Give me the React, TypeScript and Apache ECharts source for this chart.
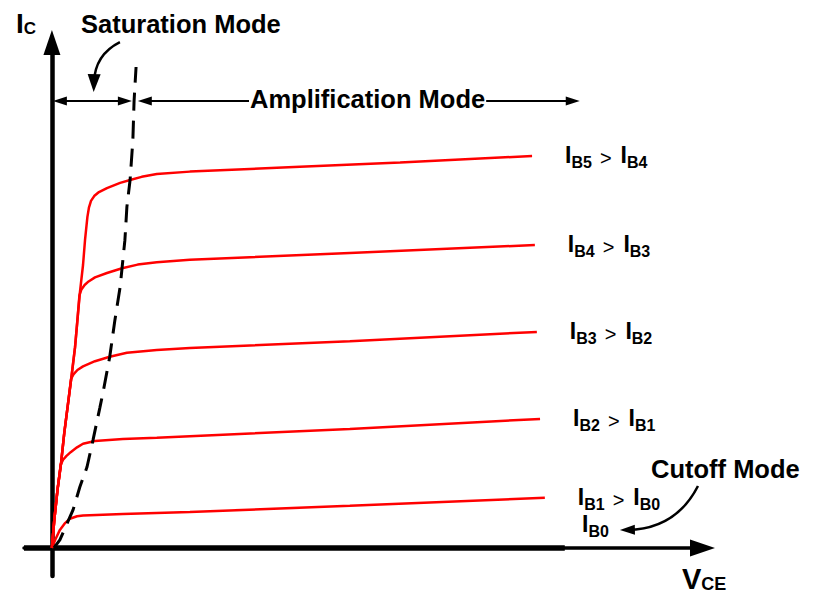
import React, { useEffect, useRef } from "react";
import * as echarts from "echarts";

// Axis ranges (V_CE in V, I_C in mA; arbitrary units)
const xRange = [-0.7, 16];
const yRange = [-0.7, 12.3];

// Output characteristic curves (x = V_CE, y = I_C)
const ib5 = [[0,0],[0.06,0.70],[0.14,1.45],[0.23,2.12],[0.31,2.87],[0.40,3.57],[0.49,4.27],[0.58,5.01],[0.64,5.69],[0.70,6.36],[0.78,7.06],[0.83,7.68],[0.89,8.26],[0.93,8.50],[0.98,8.66],[1.06,8.78],[1.18,8.88],[1.38,8.98],[1.71,9.11],[1.96,9.18],[2.25,9.26],[2.63,9.33],[3.46,9.39],[6.22,9.51],[8.73,9.62],[12.04,9.78]];
const ib4 = [[0,0],[0.06,0.70],[0.14,1.45],[0.23,2.12],[0.31,2.87],[0.40,3.57],[0.49,4.27],[0.58,5.01],[0.64,5.69],[0.69,6.30],[0.74,6.45],[0.82,6.56],[0.92,6.65],[1.08,6.75],[1.38,6.86],[1.76,6.98],[2.15,7.07],[2.63,7.13],[3.46,7.19],[7.47,7.36],[12.11,7.56]];
const ib3 = [[0,0],[0.06,0.70],[0.14,1.45],[0.23,2.12],[0.31,2.87],[0.40,3.57],[0.48,4.22],[0.54,4.33],[0.64,4.44],[0.78,4.53],[1.08,4.66],[1.45,4.77],[1.88,4.87],[2.63,4.94],[3.46,4.99],[7.47,5.16],[12.16,5.39]];
const ib2 = [[0,0],[0.06,0.70],[0.14,1.45],[0.22,2.08],[0.28,2.20],[0.36,2.29],[0.47,2.39],[0.63,2.51],[0.78,2.60],[1.08,2.67],[1.78,2.72],[2.63,2.75],[3.46,2.79],[7.47,2.97],[12.24,3.22]];
const ib1 = [[0,0],[0.08,0.20],[0.20,0.45],[0.33,0.62],[0.45,0.73],[0.63,0.79],[0.78,0.81],[1.78,0.85],[3.46,0.90],[7.47,1.05],[12.36,1.25]];

const curveLabels = [["B5", "B4"], ["B4", "B3"], ["B3", "B2"], ["B2", "B1"], ["B1", "B0"]];

// Saturation boundary (dashed)
const satBoundary = [[0.05,0],[0.20,0.20],[0.53,0.95],[0.70,1.52],[0.88,2.02],[1.03,2.69],[1.20,3.49],[1.28,3.87],[1.45,4.77],[1.58,5.69],[1.71,6.51],[1.83,7.68],[1.88,8.51],[1.96,9.18],[2.03,10.18],[2.06,11.15],[2.11,12.0]];

// Thick part of the V_CE axis
const xAxisThick = [[-0.7, 0], [12.86, 0]];

// Region arrows
const saturationSpan = [[0.2, 11.15], [1.83, 11.15]];
const amplificationSpan = [[2.33, 11.15], [13.06, 11.15]];
const saturationPointer = [[1.705, 12.62], [1.053, 11.6]];
const cutoffPointer = [[16.2, 1.547], [14.43, 0.449]];

const FONT = '"Liberation Sans", Arial, sans-serif';

const labelRich = {
  i: { fontFamily: FONT, fontWeight: "bold", fontSize: 23, lineHeight: 24, verticalAlign: "top", color: "#000" },
  s: { fontFamily: FONT, fontWeight: "bold", fontSize: 16, lineHeight: 16, verticalAlign: "top", padding: [10.5, 0, 0, 0], color: "#000" },
  g: { fontFamily: FONT, fontWeight: "normal", fontSize: 20, lineHeight: 20, verticalAlign: "top", padding: [4, 9, 0, 8], color: "#000" },
};

export default function App() {
  const ref = useRef<HTMLDivElement>(null);
  useEffect(() => {
    const chart = echarts.init(ref.current!, null, { renderer: "svg" });
    const curves = [ib5, ib4, ib3, ib2, ib1];
    const curveSeries = curves.map((d, k) => ({
      type: "line",
      data: d,
      symbol: "none",
      showSymbol: false,
      silent: true,
      z: 3,
      lineStyle: { color: "#ff0000", width: 2.5 },
      endLabel: {
        show: true,
        distance: 33,
        fontFamily: FONT,
        formatter: `{i|I}{s|${curveLabels[k][0]}}{g|>}{i|I}{s|${curveLabels[k][1]}}`,
        rich: labelRich,
      },
    }));

    const option: any = {
      animation: false,
      backgroundColor: "#ffffff",
      grid: { left: 24, right: 125, top: 55, bottom: 17, containLabel: false },
      xAxis: {
        type: "value",
        min: xRange[0],
        max: xRange[1],
        axisLine: {
          show: true,
          onZero: true,
          symbol: ["none", "triangle"],
          symbolSize: [17, 25],
          symbolOffset: [0, 12.5],
          lineStyle: { color: "#000", width: 3.5 },
        },
        axisTick: { show: false },
        axisLabel: { show: false },
        splitLine: { show: false },
      },
      yAxis: {
        type: "value",
        min: yRange[0],
        max: yRange[1],
        axisLine: {
          show: true,
          onZero: true,
          symbol: ["none", "triangle"],
          symbolSize: [17, 25],
          symbolOffset: [0, 12.5],
          lineStyle: { color: "#000", width: 4.5 },
        },
        axisTick: { show: false },
        axisLabel: { show: false },
        splitLine: { show: false },
      },
      series: [
        {
          type: "line",
          data: xAxisThick,
          symbol: "none",
          silent: true,
          z: 2,
          lineStyle: { color: "#000", width: 5.5 },
        },
        ...curveSeries,
        {
          type: "line",
          data: satBoundary,
          symbol: "none",
          silent: true,
          z: 4,
          lineStyle: { color: "#000", width: 3, type: [18, 10] },
        },
        {
          type: "lines",
          coordinateSystem: "cartesian2d",
          clip: false,
          silent: true,
          z: 5,
          symbol: ["triangle", "triangle"],
          symbolSize: [[9, 14], [9, 14]],
          lineStyle: { color: "#000", width: 2, opacity: 1 },
          data: [{ coords: saturationSpan }, { coords: amplificationSpan }],
        },
        {
          type: "lines",
          coordinateSystem: "cartesian2d",
          clip: false,
          silent: true,
          z: 5,
          symbol: ["none", "triangle"],
          symbolSize: [[1, 1], [13, 18]],
          lineStyle: { color: "#000", width: 2.5, opacity: 1 },
          data: [{ coords: saturationPointer, lineStyle: { curveness: -0.3 } }],
        },
        {
          type: "lines",
          coordinateSystem: "cartesian2d",
          clip: false,
          silent: true,
          z: 5,
          symbol: ["none", "triangle"],
          symbolSize: [[1, 1], [10, 15]],
          lineStyle: { color: "#000", width: 2.5, opacity: 1 },
          data: [{ coords: cutoffPointer, lineStyle: { curveness: 0.3 } }],
        },
      ],
      graphic: [
        {
          type: "text", x: 16, y: 9, z: 100,
          style: {
            text: "{i|I}{s|C}", verticalAlign: "top", align: "left",
            rich: {
              i: { fontFamily: FONT, fontWeight: "bold", fontSize: 28, lineHeight: 28, verticalAlign: "top", fill: "#000" },
              s: { fontFamily: FONT, fontWeight: "bold", fontSize: 17, lineHeight: 17, verticalAlign: "top", padding: [10.5, 0, 0, 0], fill: "#000" },
            },
          },
        },
        {
          type: "text", x: 682, y: 564, z: 100,
          style: {
            text: "{v|V}{s|CE}", verticalAlign: "top", align: "left",
            rich: {
              v: { fontFamily: FONT, fontWeight: "bold", fontSize: 29, lineHeight: 29, verticalAlign: "top", fill: "#000" },
              s: { fontFamily: FONT, fontWeight: "bold", fontSize: 18, lineHeight: 18, verticalAlign: "top", padding: [11, 0, 0, 0], fill: "#000" },
            },
          },
        },
        {
          type: "text", x: 582, y: 512.5, z: 100,
          style: {
            text: "{i|I}{s|B0}", verticalAlign: "top", align: "left",
            rich: {
              i: { fontFamily: FONT, fontWeight: "bold", fontSize: 23, lineHeight: 24, verticalAlign: "top", fill: "#000" },
              s: { fontFamily: FONT, fontWeight: "bold", fontSize: 16, lineHeight: 16, verticalAlign: "top", padding: [10.5, 0, 0, 0], fill: "#000" },
            },
          },
        },
        {
          type: "text", x: 81, y: 24, z: 100,
          style: { text: "Saturation Mode", font: `bold 25.5px ${FONT}`, fill: "#000", verticalAlign: "middle", align: "left" },
        },
        {
          type: "text", x: 249, y: 99, z: 100,
          style: { text: "Amplification Mode", font: `bold 25.5px ${FONT}`, fill: "#000", verticalAlign: "middle", align: "left", backgroundColor: "#fff", padding: [0, 1, 0, 1] },
        },
        {
          type: "text", x: 651, y: 468.5, z: 100,
          style: { text: "Cutoff Mode", font: `bold 25.5px ${FONT}`, fill: "#000", verticalAlign: "middle", align: "left" },
        },
      ],
    };
    chart.setOption(option);
    return () => chart.dispose();
  }, []);
  return (
    <div
      ref={ref}
      style={{ position: "fixed", left: 0, top: 0, width: 815, height: 593, background: "#fff" }}
    />
  );
}
